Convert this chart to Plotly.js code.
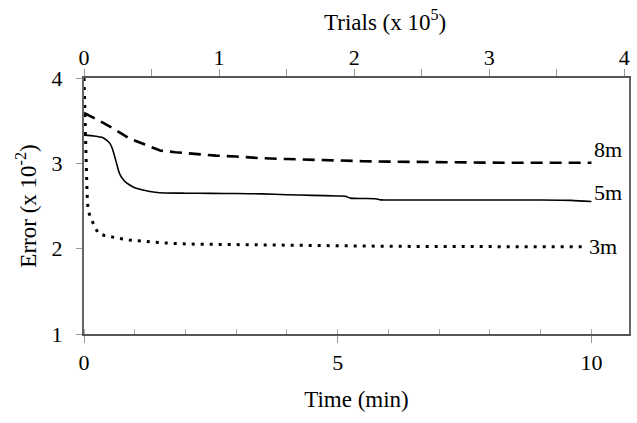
<!DOCTYPE html>
<html>
<head>
<meta charset="utf-8">
<script src="https://cdn.plot.ly/plotly-3.0.1.min.js"></script>
<style>html,body{margin:0;padding:0;background:#fff;}#chart{width:637px;height:423px;}</style>
</head>
<body>
<div id="chart"></div>
<script>
// Time (min) and error (x10^-2) for each series
var t8 = [0, 0.3, 0.6, 0.9, 1.2, 1.5, 1.8, 2.2, 2.6, 3, 3.5, 4, 4.5, 5, 5.5, 6, 7, 8, 9, 10];
var e8 = [3.59, 3.50, 3.40, 3.29, 3.22, 3.15, 3.13, 3.11, 3.09, 3.08, 3.06, 3.05, 3.04, 3.03, 3.025, 3.02, 3.01, 3.008, 3.007, 3.007];

var t5 = [0, 0.2, 0.375, 0.45, 0.51, 0.56, 0.606, 0.65, 0.7, 0.8, 0.9, 1.0, 1.16, 1.3, 1.49, 2.0, 2.5, 3.0, 3.5, 4.0, 4.5, 5.0, 5.15, 5.25, 5.5, 5.75, 5.85, 6.5, 7, 8, 9, 9.6, 10];
var e5 = [3.33, 3.32, 3.30, 3.27, 3.234, 3.17, 3.077, 2.98, 2.88, 2.79, 2.746, 2.715, 2.687, 2.67, 2.656, 2.65, 2.648, 2.646, 2.642, 2.632, 2.625, 2.618, 2.615, 2.592, 2.588, 2.585, 2.572, 2.571, 2.570, 2.570, 2.570, 2.566, 2.552];

var t3 = [0, 0.015, 0.03, 0.045, 0.06, 0.08, 0.13, 0.18, 0.28, 0.4, 0.51, 0.7, 0.9, 1.2, 1.49, 2.02, 2.5, 3, 4, 5, 6, 7, 8, 9, 9.9];
var e3 = [4.0, 3.6, 3.15, 2.85, 2.65, 2.45, 2.36, 2.30, 2.18, 2.155, 2.14, 2.12, 2.10, 2.085, 2.07, 2.054, 2.05, 2.045, 2.038, 2.032, 2.028, 2.025, 2.023, 2.022, 2.022];

var seriesNames = ['8m', '5m', '3m'];
var topTickMarks = [0, 0.5, 1, 1.5, 2, 2.5, 3, 3.5, 4];
var topTickVals = [0, 1, 2, 3, 4];
var topTickText = ['0', '1', '2', '3', '4'];
var bottomTickVals = [0, 5, 10];
var leftTickVals = [1, 2, 3, 4];

var FONT = "'Liberation Serif', 'Times New Roman', serif";
var TOPRANGE = [0, 4.035];

function carrier(xa) {
  return {x: [topTickVals[0], topTickVals[topTickVals.length - 1]], y: [leftTickVals[0], leftTickVals[0]],
    xaxis: xa, yaxis: 'y', mode: 'lines', line: {color: 'rgba(0,0,0,0)', width: 0}, hoverinfo: 'skip', showlegend: false};
}

var traces = [
  {x: t8, y: e8, mode: 'lines', name: seriesNames[0], line: {color: '#000', width: 2.6, dash: '12px,7px'}, hoverinfo: 'skip'},
  {x: t5, y: e5, mode: 'lines', name: seriesNames[1], line: {color: '#000', width: 1.6, shape: 'spline', smoothing: 0.6}, hoverinfo: 'skip'},
  {x: t3, y: e3, mode: 'lines', name: seriesNames[2], line: {color: '#000', width: 3, dash: '3px,6px'}, hoverinfo: 'skip'},
  carrier('x2'),
  carrier('x3')
];

var series = [[t8, e8, 13], [t5, e5, 9], [t3, e3, 0]];
var annotations = series.map(function (s, i) {
  return {
    x: s[0][s[0].length - 1], y: s[1][s[1].length - 1], xref: 'x', yref: 'y',
    text: seriesNames[i], showarrow: false, xanchor: 'left', yanchor: 'middle',
    xshift: 1, yshift: s[2], font: {family: FONT, size: 22, color: '#000'}
  };
});
annotations.push({
  x: 0.552, y: 1.225, xref: 'paper', yref: 'paper', xanchor: 'center', yanchor: 'middle',
  text: 'Trials (x 10<sup>5</sup>)', showarrow: false, font: {family: FONT, size: 23, color: '#000'}
});

var layout = {
  width: 637, height: 423,
  margin: {l: 84, r: 8, t: 78, b: 89},
  paper_bgcolor: '#fff', plot_bgcolor: '#fff',
  showlegend: false,
  font: {family: FONT, size: 22, color: '#000'},
  xaxis: {
    range: [0, 10.74], tickmode: 'array', tickvals: bottomTickVals,
    ticks: 'outside', ticklen: 7, tickcolor: '#999', tickwidth: 1,
    minor: {dtick: 1, tick0: 0, ticks: 'inside', ticklen: 5, tickcolor: '#aaa', tickwidth: 1},
    showline: true, linecolor: '#555', linewidth: 2, mirror: true,
    showgrid: false, zeroline: false, ticklabelstandoff: 1,
    tickfont: {family: FONT, size: 22, color: '#000'},
    title: {text: 'Time (min)', font: {family: FONT, size: 23, color: '#000'}, standoff: 16}
  },
  xaxis2: {
    overlaying: 'x', side: 'top', anchor: 'y', range: TOPRANGE,
    tickmode: 'array', tickvals: topTickMarks, showticklabels: false,
    ticks: 'outside', ticklen: 7, tickcolor: '#999', tickwidth: 1,
    showline: true, linecolor: '#555', linewidth: 2,
    showgrid: false, zeroline: false
  },
  xaxis3: {
    overlaying: 'x', side: 'top', anchor: 'y', range: TOPRANGE,
    tickmode: 'array', tickvals: topTickVals, ticktext: topTickText,
    ticks: '', showline: false, showgrid: false, zeroline: false,
    ticklabelstandoff: 8,
    tickfont: {family: FONT, size: 22, color: '#000'}
  },
  yaxis: {
    range: [1, 4], tickmode: 'array', tickvals: leftTickVals,
    ticks: 'outside', ticklen: 6, tickcolor: '#999', tickwidth: 1,
    showline: true, linecolor: '#666', linewidth: 2, mirror: true,
    showgrid: false, zeroline: false, ticklabelstandoff: 9,
    tickfont: {family: FONT, size: 22, color: '#000'},
    title: {text: 'Error (x 10<sup>-2</sup>)', font: {family: FONT, size: 23, color: '#000'}, standoff: 9}
  },
  annotations: annotations
};

Plotly.newPlot('chart', traces, layout, {staticPlot: true, displayModeBar: false});
</script>
</body>
</html>
